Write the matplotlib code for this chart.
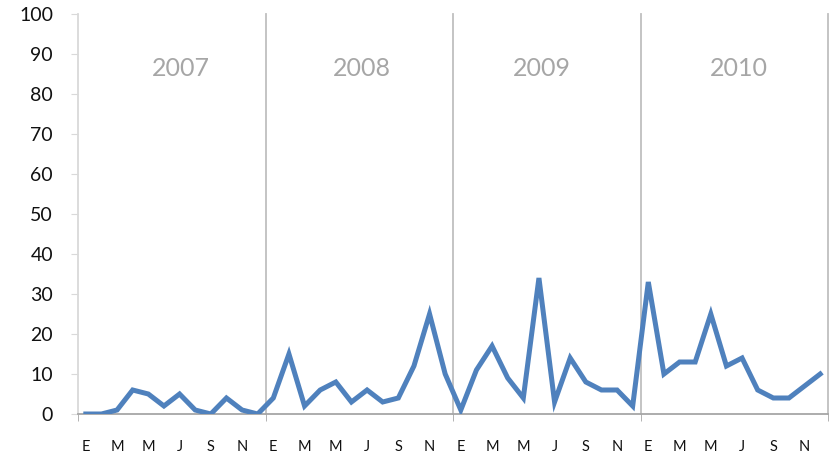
import matplotlib
matplotlib.use("Agg")
import matplotlib.pyplot as plt
import numpy as np

years = ["2007", "2008", "2009", "2010"]
month_labels = ["E", "", "M", "", "M", "", "J", "", "S", "", "N", ""]
values_2007 = [0, 0, 1, 6, 5, 2, 5, 1, 0, 4, 1, 0]
values_2008 = [4, 15, 2, 6, 8, 3, 6, 3, 4, 12, 25, 10]
values_2009 = [1, 11, 17, 9, 4, 34, 3, 14, 8, 6, 6, 2]
values_2010 = [33, 10, 13, 13, 25, 12, 14, 6, 4, 4, 7, 10]
yticks = [0, 10, 20, 30, 40, 50, 60, 70, 80, 90, 100]

series = values_2007 + values_2008 + values_2009 + values_2010
n = len(series)
x = np.arange(n)

plt.rcParams['font.family'] = ['Lato', 'DejaVu Sans']

fig = plt.figure(figsize=(8.34, 4.61), dpi=100)
ax = fig.add_axes([78/834, 47/461, 750/834, 400/461])

ax.plot(x, series, color="#4F81BD", lw=3.6, solid_joinstyle="miter", zorder=3)

ax.set_xlim(-0.5, n - 0.5)
ax.set_ylim(0, 100)

# Year separators
for k in range(1, len(years) + 1):
    ax.axvline(12 * k - 0.5, color="#BFBFBF", lw=1.3, zorder=1, clip_on=False)

# Year labels
label_pos = [6.1, 17.7, 29.2, 41.8]
for yr, px in zip(years, label_pos):
    ax.text(px, 86.5, yr, color="#A6A6A6", fontsize=18, ha="center", va="center")

ax.set_yticks(yticks)
ax.set_yticklabels([str(v) for v in yticks], fontsize=14)
ax.set_xticks(x)
ax.set_xticklabels(month_labels * len(years), fontsize=10.5)
ax.set_xticks([12 * k - 0.5 for k in range(len(years) + 1)], minor=True)

ax.tick_params(axis="y", length=5, color="#D9D9D9", pad=13, labelcolor="#111111")
ax.tick_params(axis="x", which="major", length=0, pad=19, labelcolor="#111111")
ax.tick_params(axis="x", which="minor", length=5, color="#A6A6A6")

for s in ["top", "right"]:
    ax.spines[s].set_visible(False)
ax.spines["left"].set_color("#D9D9D9")
ax.spines["left"].set_linewidth(1.3)
ax.spines["bottom"].set_color("#A6A6A6")
ax.spines["bottom"].set_linewidth(1.3)

fig.savefig("out.png", dpi=100)
